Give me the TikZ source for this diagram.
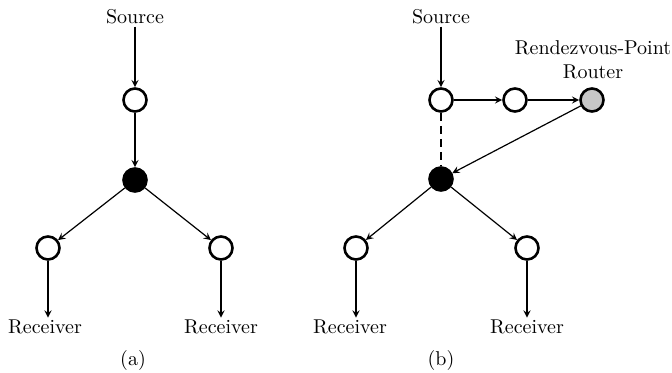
\documentclass[tikz,border=0pt]{standalone}
\usepackage{tikz}
\usetikzlibrary{shapes,arrows,positioning}

\begin{document}
\begin{tikzpicture}[x=0.5pt, y=-0.5pt,
    router/.style={circle, draw=black, line width=1.3pt, fill=white, minimum size=11.5pt, inner sep=0pt},
    core/.style={router, fill=black},
    rp/.style={router, fill=black!22},
    lbl/.style={font=\normalsize, inner sep=1pt, align=center},
    arrow/.style={->, >=stealth, line width=0.6pt},
    shared/.style={line width=0.8pt, dash pattern=on 4pt off 2.5pt}
]
    \useasboundingbox (0,0) rectangle (672,373);

    % (a) source, routers and receivers
    \node[lbl] (srcA) at (135,17) {Source};
    \node[router] (topA) at (135,100) {};
    \node[core] (coreA) at (135,180) {};
    \node[router] (leftA) at (48,248) {};
    \node[router] (rightA) at (221,248) {};
    \node[lbl] (rcvLA) at (45,327) {Receiver};
    \node[lbl] (rcvRA) at (221,327) {Receiver};
    \node[lbl] (capA) at (133,360) {(a)};

    % (a) arrows
    \draw[arrow] (srcA) -- (topA);
    \draw[arrow] (topA) -- (coreA);
    \draw[arrow] (coreA) -- (leftA);
    \draw[arrow] (coreA) -- (rightA);
    \draw[arrow] (leftA) -- (leftA |- rcvLA.north);
    \draw[arrow] (rightA) -- (rightA |- rcvRA.north);

    % (b) source, rendezvous point and receivers
    \node[lbl] (srcB) at (441,17) {Source};
    \node[router] (topB) at (441,100) {};
    \node[router] (midB) at (515,100) {};
    \node[rp] (rpB) at (592,100) {};
    \node[lbl] (rpText) at (593,60) {Rendezvous-Point\\Router};
    \node[core] (coreB) at (441,179) {};
    \node[router] (leftB) at (356,248) {};
    \node[router] (rightB) at (527,248) {};
    \node[lbl] (rcvLB) at (350,327) {Receiver};
    \node[lbl] (rcvRB) at (527,327) {Receiver};
    \node[lbl] (capB) at (441,360) {(b)};

    % (b) arrows
    \draw[arrow] (srcB) -- (topB);
    \draw[arrow] (topB) -- (midB);
    \draw[arrow] (midB) -- (rpB);
    \draw[shared] (topB) -- (coreB);
    \draw[arrow] (rpB) -- (coreB);
    \draw[arrow] (coreB) -- (leftB);
    \draw[arrow] (coreB) -- (rightB);
    \draw[arrow] (leftB) -- (leftB |- rcvLB.north);
    \draw[arrow] (rightB) -- (rightB |- rcvRB.north);
\end{tikzpicture}
\end{document}
